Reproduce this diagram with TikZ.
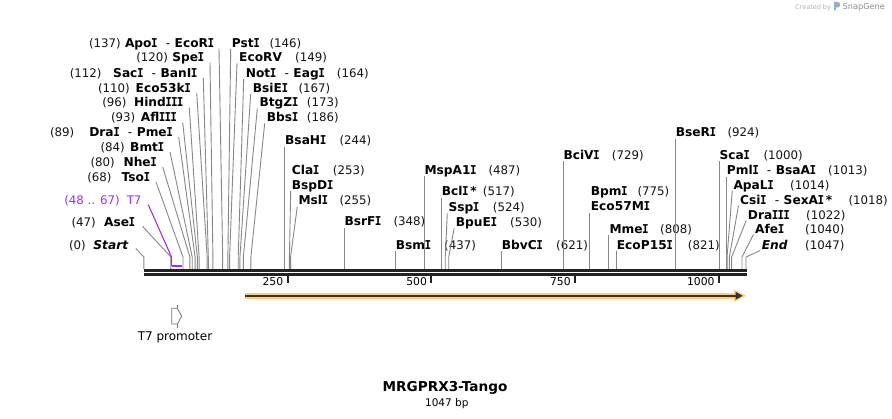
\documentclass[tikz,border=0pt]{standalone}
\usepackage{fontspec}
\usepackage{graphicx}
\setmainfont{DejaVu Sans}
\newfontfamily\monoIfont{DejaVu Sans Mono}
\definecolor{t7col}{RGB}{160,48,240}
\definecolor{linecol}{RGB}{135,135,135}
\definecolor{axiscol}{RGB}{34,34,34}
\definecolor{numcol}{RGB}{20,20,20}
\definecolor{featorange}{RGB}{255,204,120}
\definecolor{featdark}{RGB}{51,51,51}
\definecolor{wmgrey}{RGB}{175,175,175}
\definecolor{logocol}{RGB}{150,175,200}
\newcommand{\lsz}{\fontsize{11.8}{14}\selectfont}
\newcommand{\bsz}{\fontsize{12.2}{14}\selectfont}
\newcommand{\bpx}[1]{143.9+0.5751*#1}
\newcommand{\dsh}{\hspace{8.5pt}{\mdseries -}\hspace{4.5pt}}
\newcommand{\vI}{\makebox[0.47em][c]{\scalebox{0.9}[1]{\monoIfont I}}}
\tikzset{
  nm/.style={font=\bsz\bfseries, inner sep=0pt, text height=8.6pt, text depth=0pt},
  nmit/.style={font=\bsz\bfseries\itshape, inner sep=0pt, text height=8.6pt, text depth=0pt},
  num/.style={font=\lsz, text=numcol, inner sep=0pt, text height=8.6pt, text depth=0pt},
  cl/.style={draw=linecol, line width=0.9pt},
  t7line/.style={draw=t7col, line width=1.1pt},
  ticklab/.style={font=\fontsize{10.8}{12}\selectfont, inner sep=0pt, anchor=base east},
  tickmark/.style={draw=axiscol, line width=2pt},
}
\begin{document}
\begin{tikzpicture}[x=1pt,y=-1pt]
\path[use as bounding box, fill=white] (0,0) rectangle (892,419);

% knee and axis coordinates
\foreach \b in {0,47,48,67,68,80,84,89,93,96,110,112,120,137,146,149,164,167,173,186,244,253,255,348,437,487,517,524,530,621,729,775,808,821,924,1000,1013,1014,1018,1022,1040,1047}{
  \coordinate (k\b) at ({\bpx{\b}},257);
  \coordinate (a\b) at ({\bpx{\b}},269);
}

% ---------- left labels ----------
\node[nm,anchor=east] (apoi) at (214,42.9) {Apo\vI\dsh EcoR\vI};
\node[num,anchor=east] (apoin) at (121,42.9) {(137)};
\node[nm,anchor=east] (spei) at (204,57.5) {Spe\vI};
\node[num,anchor=east] (spein) at (168.3,57.5) {(120)};
\node[nm,anchor=east] (saci) at (197.3,73) {Sac\vI\dsh BanI\vI};
\node[num,anchor=east] (sacin) at (101.7,73) {(112)};
\node[nm,anchor=east] (eco53) at (190.7,87.8) {Eco53k\vI};
\node[num,anchor=east] (eco53n) at (130,87.8) {(110)};
\node[nm,anchor=east] (hind) at (183.3,102.6) {Hind\vI\vI\vI};
\node[num,anchor=east] (hindn) at (126.7,102.6) {(96)};
\node[nm,anchor=east] (afl) at (176.7,117.4) {Afl\vI\vI\vI};
\node[num,anchor=east] (afln) at (135.5,117.4) {(93)};
\node[nm,anchor=east] (drai) at (172.7,132) {Dra\vI\dsh Pme\vI};
\node[num,anchor=east] (drain) at (74.5,132) {(89)};
\node[nm,anchor=east] (bmti) at (164,147) {Bmt\vI};
\node[num,anchor=east] (bmtin) at (125,147) {(84)};
\node[nm,anchor=east] (nhei) at (156.7,162) {Nhe\vI};
\node[num,anchor=east] (nhein) at (115,162) {(80)};
\node[nm,anchor=east] (tsoi) at (150,177) {Tso\vI};
\node[num,anchor=east] (tsoin) at (111.7,177) {(68)};
\node[num,anchor=east,text=t7col] (t7) at (141.7,200) {T7};
\node[num,anchor=east,text=t7col] (t7n) at (120,200) {(48 .. 67)};
\node[nm,anchor=east] (asei) at (135,222) {Ase\vI};
\node[num,anchor=east] (asein) at (96,222) {(47)};
\node[nmit,anchor=east] (startl) at (128.3,245) {Start};
\node[num,anchor=east] (startn) at (86,245) {(0)};

% ---------- right labels ----------
\node[nm,anchor=west] (psti) at (231.7,42.9) {Pst\vI};
\node[num,anchor=west] (pstin) at (269.3,42.9) {(146)};
\node[nm,anchor=west] (ecorv) at (239,57.5) {EcoRV};
\node[num,anchor=west] (ecorvn) at (295,57.5) {(149)};
\node[nm,anchor=west] (noti) at (245.7,73) {Not\vI\dsh Eag\vI};
\node[num,anchor=west] (notin) at (336.7,73) {(164)};
\node[nm,anchor=west] (bsiei) at (252.7,87.8) {BsiE\vI};
\node[num,anchor=west] (bsiein) at (298.3,87.8) {(167)};
\node[nm,anchor=west] (btgzi) at (259.3,102.6) {BtgZ\vI};
\node[num,anchor=west] (btgzin) at (306.7,102.6) {(173)};
\node[nm,anchor=west] (bbsi) at (266.7,117.4) {Bbs\vI};
\node[num,anchor=west] (bbsin) at (306.7,117.4) {(186)};
\node[nm,anchor=west] (bsahi) at (285,140.7) {BsaH\vI};
\node[num,anchor=west] (bsahin) at (339.3,140.7) {(244)};
\node[nm,anchor=west] (clai) at (291.7,170) {Cla\vI};
\node[num,anchor=west] (clain) at (332.7,170) {(253)};
\node[nm,anchor=west] (bspdi) at (291.7,185) {BspD\vI};
\node[nm,anchor=west] (msli) at (298.3,200) {Msl\vI};
\node[num,anchor=west] (mslin) at (339.3,200) {(255)};
\node[nm,anchor=west] (bsrfi) at (344.3,221.7) {BsrF\vI};
\node[num,anchor=west] (bsrfin) at (393.3,221.7) {(348)};
\node[nm,anchor=west] (bsmi) at (395.7,245) {Bsm\vI};
\node[num,anchor=west] (bsmin) at (444,245) {(437)};
\node[nm,anchor=west] (mspa) at (424.3,170) {MspA1\vI};
\node[num,anchor=west] (mspan) at (488.3,170) {(487)};
\node[nm,anchor=west] (bcli) at (441.7,191.7) {Bcl\vI\,*};
\node[num,anchor=west] (bclin) at (482.7,191.7) {(517)};
\node[nm,anchor=west] (sspi) at (448.3,207) {Ssp\vI};
\node[num,anchor=west] (sspin) at (492.7,207) {(524)};
\node[nm,anchor=west] (bpuei) at (455.7,222.7) {BpuE\vI};
\node[num,anchor=west] (bpuein) at (510,222.7) {(530)};
\node[nm,anchor=west] (bbvci) at (501.7,245) {BbvC\vI};
\node[num,anchor=west] (bbvcin) at (556,245) {(621)};
\node[nm,anchor=west] (bcivi) at (563.3,155) {BciV\vI};
\node[num,anchor=west] (bcivin) at (611.7,155) {(729)};
\node[nm,anchor=west] (bpmi) at (590.7,191.7) {Bpm\vI};
\node[num,anchor=west] (bpmin) at (637.3,191.7) {(775)};
\node[nm,anchor=west] (eco57) at (590.7,206.7) {Eco57M\vI};
\node[nm,anchor=west] (mmei) at (609.3,229) {Mme\vI};
\node[num,anchor=west] (mmein) at (660,229) {(808)};
\node[nm,anchor=west] (ecop) at (616.7,245) {EcoP15\vI};
\node[num,anchor=west] (ecopn) at (687.7,245) {(821)};
\node[nm,anchor=west] (bseri) at (675.7,132.7) {BseR\vI};
\node[num,anchor=west] (bserin) at (727.3,132.7) {(924)};
\node[nm,anchor=west] (scai) at (719.3,155) {Sca\vI};
\node[num,anchor=west] (scain) at (763.3,155) {(1000)};
\node[nm,anchor=west] (pmli) at (726.7,170.7) {Pml\vI\dsh BsaA\vI};
\node[num,anchor=west] (pmlin) at (828,170.7) {(1013)};
\node[nm,anchor=west] (apali) at (733.3,185) {ApaL\vI};
\node[num,anchor=west] (apalin) at (790,185) {(1014)};
\node[nm,anchor=west] (csii) at (740,200) {Csi\vI\dsh SexA\vI\,*};
\node[num,anchor=west] (csiin) at (848.3,200) {(1018)};
\node[nm,anchor=west] (draiii) at (747.7,215) {Dra\vI\vI\vI};
\node[num,anchor=west] (draiiin) at (806,215) {(1022)};
\node[nm,anchor=west] (afei) at (755,229) {Afe\vI};
\node[num,anchor=west] (afein) at (805,229) {(1040)};
\node[nmit,anchor=west] (endl) at (761.7,245) {End};
\node[num,anchor=west] (endn) at (805,245) {(1047)};

% ---------- connectors: left ----------
\draw[cl] ([shift={(5,5.5)}]apoi.east) -- (k137) -- (a137);
\draw[cl] ([shift={(6,5)}]spei.east) -- (k120) -- (a120);
\draw[cl] ([shift={(6,5)}]saci.east) -- (k112) -- (a112);
\draw[cl] ([shift={(6,5)}]eco53.east) -- (k110) -- (a110);
\draw[cl] ([shift={(6,5)}]hind.east) -- (k96) -- (a96);
\draw[cl] ([shift={(6,5)}]afl.east) -- (k93) -- (a93);
\draw[cl] ([shift={(6,5)}]drai.east) -- (k89) -- (a89);
\draw[cl] ([shift={(6,5)}]bmti.east) -- (k84) -- (a84);
\draw[cl] ([shift={(6,5)}]nhei.east) -- (k80) -- (a80);
\draw[cl] ([shift={(6,5)}]tsoi.east) -- (k68) -- (a68);
\draw[cl] ([shift={(7.5,4.3)}]asei.east) -- (k47) -- (a47);
\draw[cl] ([shift={(7.5,3.5)}]startl.east) -- (k0) -- (a0);
\draw[t7line] ([shift={(6.5,4.5)}]t7.east) -- (k48) -- ({\bpx{48}},266);
\draw[draw=t7col, line width=1.8pt] ({\bpx{48}},265.9) -- ({\bpx{67}},265.9);

% ---------- connectors: right ----------
\draw[cl] ([shift={(-1,6)}]psti.west) -- (k146) -- (a146);
\draw[cl] ([shift={(-2,6)}]ecorv.west) -- (k149) -- (a149);
\draw[cl] ([shift={(-2,6)}]noti.west) -- (k164) -- (a164);
\draw[cl] ([shift={(-2,6)}]bsiei.west) -- (k167) -- (a167);
\draw[cl] ([shift={(-2,6)}]btgzi.west) -- (k173) -- (a173);
\draw[cl] ([shift={(-2,6)}]bbsi.west) -- (k186) -- (a186);
\draw[cl] (a244 |- bsahi.south) ++(0,2) -- (a244);
\draw[cl] ([shift={(-1,6)}]bspdi.west) -- (k253) -- (a253);
\draw[cl] ([shift={(-1,6.5)}]msli.west) -- (k255) -- (a255);
\draw[cl] (a348 |- bsrfi.south) ++(0,2) -- (a348);
\draw[cl] (a437 |- bsmi.south) ++(0,2) -- (a437);
\draw[cl] (a487 |- mspa.south) ++(0,2) -- (a487);
\draw[cl] (a517 |- bcli.south) ++(0,2) -- (a517);
\draw[cl] ([shift={(-1,6.3)}]sspi.west) -- (k524) -- (a524);
\draw[cl] ([shift={(-1.5,5.6)}]bpuei.west) -- (k530) -- (a530);
\draw[cl] (a621 |- bbvci.south) ++(0,2) -- (a621);
\draw[cl] (a729 |- bcivi.south) ++(0,2) -- (a729);
\draw[cl] (a775 |- eco57.south) ++(0,2) -- (a775);
\draw[cl] (a808 |- mmei.south) ++(0,2) -- (a808);
\draw[cl] (a821 |- ecop.south) ++(0,2) -- (a821);
\draw[cl] (a924 |- bseri.south) ++(0,2) -- (a924);
\draw[cl] (a1000 |- scai.south) ++(0,2) -- (a1000);
\draw[cl] (a1013 |- pmli.south) ++(0,2) -- (a1013);
\draw[cl] ([shift={(-1,5.5)}]apali.west) -- (k1014) -- (a1014);
\draw[cl] ([shift={(-1.5,5.5)}]csii.west) -- (k1018) -- (a1018);
\draw[cl] ([shift={(-1.5,5.5)}]draiii.west) -- (k1022) -- (a1022);
\draw[cl] ([shift={(-1.5,5.5)}]afei.west) -- (k1040) -- (a1040);
\draw[cl] ([shift={(-1.5,5.5)}]endl.west) -- (k1047) -- (a1047);

% ---------- sequence axis ----------
\draw[draw=axiscol, line width=2.8pt] ({\bpx{0}},270.3) -- (747,270.3);
\draw[draw=axiscol, line width=2.6pt] ({\bpx{0}},274.3) -- (747,274.3);
\foreach \t in {250,500,750,1000}{
  \draw[tickmark] ({\bpx{\t}},275) -- ({\bpx{\t}},283);
  \node[ticklab] (tick\t) at ({\bpx{\t}-4.3},286) {\t};
}

% ---------- feature arrow ----------
\draw[draw=featorange, line width=6pt] (245,295.8) -- (737,295.8);
\fill[featorange] (734,289.5) -- (746,295.8) -- (734,302.1) -- cycle;
\draw[draw=featdark, line width=1.6pt] (245,295.8) -- (737,295.8);
\fill[featdark] (735.5,291.8) -- (742.6,295.8) -- (735.5,299.8) -- cycle;

% ---------- T7 promoter glyph ----------
\draw[draw=black!55, line width=0.8pt, fill=white] (171.7,308.3) -- (177.3,308.3) -- (181.7,316.2) -- (177.3,324) -- (171.7,324) -- cycle;
\draw[draw=black!55, line width=0.8pt] (177.3,305) -- (177.3,308.3);
\draw[draw=black!55, line width=0.8pt] (177.3,324) -- (177.3,328.3);
\node[font=\fontsize{12}{14}\selectfont, inner sep=0pt] (t7prom) at (175,337.5) {T7 promoter};

% ---------- title ----------
\node[font=\fontsize{13.6}{16}\selectfont\bfseries, inner sep=0pt] (title) at (445,388.3) {MRGPRX3-Tango};
\node[font=\fontsize{10.5}{12}\selectfont, inner sep=0pt] (bplen) at (446.8,403.3) {1047 bp};

% ---------- watermark ----------
\node[font=\fontsize{6.5}{7}\selectfont, text=wmgrey, anchor=west, inner sep=0pt] (wmcreated) at (795,7.5) {Created by};
\fill[logocol] (834,2) -- (837.5,2) .. controls (841,2) and (841,7.5) .. (837.5,7.5) -- (836.2,7.5) -- (836.2,10.5) -- (834,10.5) -- cycle;
\node[font=\fontsize{8.2}{9}\selectfont, text=black!45, anchor=west, inner sep=0pt] (wmsnap) at (842.5,7) {SnapGene};
\end{tikzpicture}
\end{document}
